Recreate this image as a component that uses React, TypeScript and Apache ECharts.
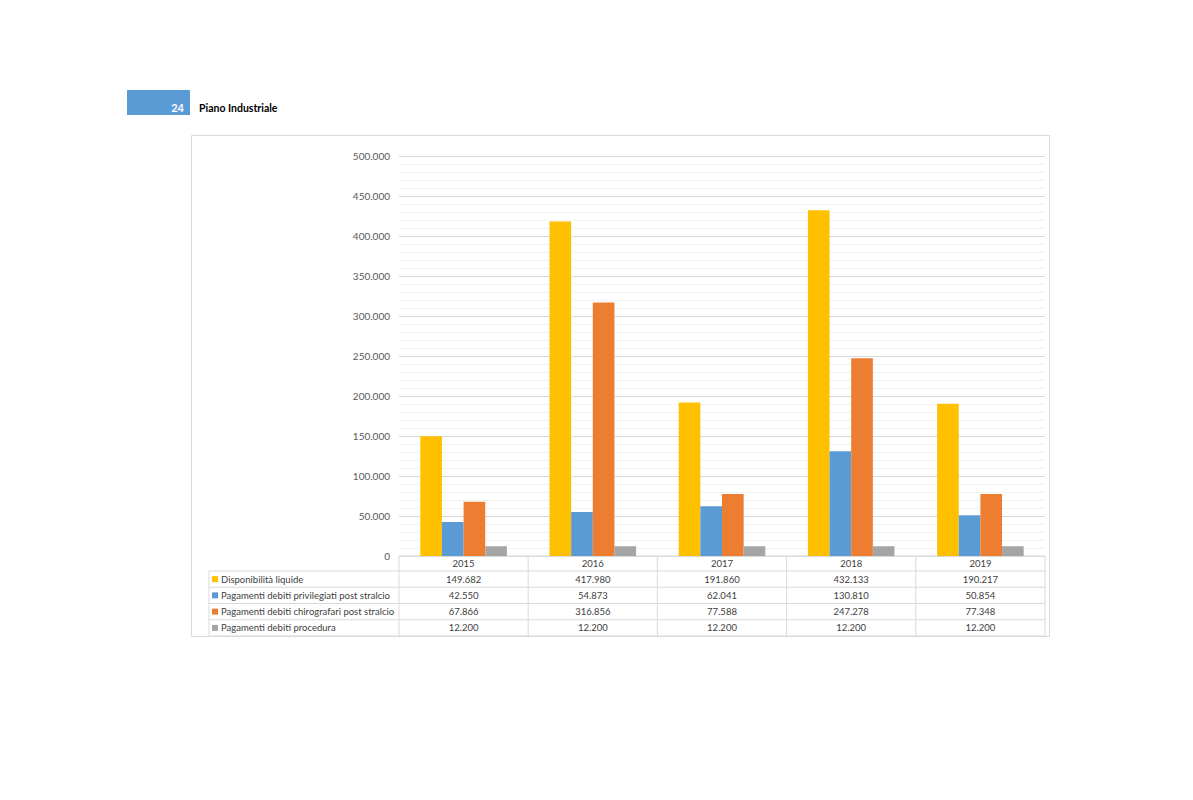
import React, { useEffect, useRef } from "react";
import * as echarts from "echarts";

const categories = ["2015", "2016", "2017", "2018", "2019"];
const seriesNames = [
  "Disponibilità liquide",
  "Pagamenti debiti privilegiati post stralcio",
  "Pagamenti debiti chirografari post stralcio",
  "Pagamenti debiti procedura",
];
const disponibilita = [149682, 417980, 191860, 432133, 190217];
const privilegiati = [42550, 54873, 62041, 130810, 50854];
const chirografari = [67866, 316856, 77588, 247278, 77348];
const procedura = [12200, 12200, 12200, 12200, 12200];
const colors = ["#ffc000", "#5b9bd5", "#ed7d31", "#a5a5a5"];
const yMax = 500000;
const yInterval = 50000;

const fmt = (n: number) => String(Math.round(n)).replace(/\B(?=(\d{3})+(?!\d))/g, ".");

const FONT = "Lato, 'Open Sans', sans-serif";
const W = 1193;
const H = 800;
const PL = 399;
const PR = 1045;
const PT = 156;
const PB = 556;

export default function App() {
  const ref = useRef<HTMLDivElement>(null);
  useEffect(() => {
    if (!ref.current) return;
    const chart = echarts.init(ref.current, null, { renderer: "svg" });
    const data = [disponibilita, privilegiati, chirografari, procedura];
    const colW = (PR - PL) / categories.length;
    const rowTop = 571;
    const rowH = 16.25;
    const lineColor = "#d9d9d9";
    const g: any[] = [];
    // header
    g.push({ type: "rect", shape: { x: 127, y: 90, width: 63, height: 25 }, style: { fill: "#5b9bd5" } });
    g.push({ type: "text", x: 184, y: 107, style: { text: "24", fill: "#ffffff", font: `bold 11px ${FONT}`, textAlign: "right", textVerticalAlign: "middle" } });
    g.push({ type: "text", x: 199, y: 107.5, style: { text: "Piano Industriale", fill: "#000000", font: `bold 10.5px ${FONT}`, textAlign: "left", textVerticalAlign: "middle" } });
    // chart border
    g.push({ type: "rect", shape: { x: 191.5, y: 135.5, width: 858, height: 501 }, style: { fill: "none", stroke: "#d9d9d9", lineWidth: 1 } });
    // table lines
    const bottom = rowTop + rowH * 4;
    g.push({ type: "line", shape: { x1: PL, y1: PB, x2: PR, y2: PB }, style: { stroke: lineColor, lineWidth: 1 } });
    for (let r = 0; r <= 4; r++) {
      const y = rowTop + rowH * r;
      g.push({ type: "line", shape: { x1: 209, y1: y, x2: PR, y2: y }, style: { stroke: lineColor, lineWidth: 1 } });
    }
    for (let c = 0; c <= categories.length; c++) {
      const x = PL + colW * c;
      g.push({ type: "line", shape: { x1: x, y1: PB, x2: x, y2: bottom }, style: { stroke: lineColor, lineWidth: 1 } });
    }
    g.push({ type: "line", shape: { x1: 209, y1: rowTop, x2: 209, y2: bottom }, style: { stroke: lineColor, lineWidth: 1 } });
    // year headers
    categories.forEach((c, i) => {
      g.push({ type: "text", x: PL + colW * (i + 0.5), y: (PB + rowTop) / 2, style: { text: c, fill: "#404040", font: `9.5px ${FONT}`, textAlign: "center", textVerticalAlign: "middle" } });
    });
    // rows
    seriesNames.forEach((name, r) => {
      const yc = rowTop + rowH * (r + 0.5);
      g.push({ type: "rect", shape: { x: 212, y: yc - 3, width: 6, height: 6 }, style: { fill: colors[r] } });
      g.push({ type: "text", x: 221, y: yc, style: { text: name, fill: "#404040", font: `9.5px ${FONT}`, textAlign: "left", textVerticalAlign: "middle" } });
      data[r].forEach((v, i) => {
        g.push({ type: "text", x: PL + colW * (i + 0.5), y: yc, style: { text: fmt(v), fill: "#404040", font: `9.5px ${FONT}`, textAlign: "center", textVerticalAlign: "middle" } });
      });
    });

    chart.setOption({
      animation: false,
      backgroundColor: "#ffffff",
      grid: { left: PL, right: W - PR, top: PT, bottom: H - PB, containLabel: false },
      xAxis: {
        type: "category",
        data: categories,
        axisLine: { show: false },
        axisTick: { show: false },
        axisLabel: { show: false },
      },
      yAxis: {
        type: "value",
        min: 0,
        max: yMax,
        interval: yInterval,
        axisLine: { show: false },
        axisTick: { show: false },
        axisLabel: { formatter: (v: number) => fmt(v), color: "#595959", fontSize: 10, fontFamily: FONT, margin: 9 },
        splitLine: { lineStyle: { color: "#d9d9d9", width: 1 } },
        minorTick: { show: false, splitNumber: 5 },
        minorSplitLine: { show: true, lineStyle: { color: "#f2f2f2", width: 1 } },
      },
      series: data.map((d, i) => ({
        name: seriesNames[i],
        type: "bar",
        data: d,
        barGap: "0%",
        barCategoryGap: "33%",
        itemStyle: { color: colors[i] },
      })),
      graphic: g,
    });
    return () => chart.dispose();
  }, []);
  return <div ref={ref} style={{ position: "absolute", left: 0, top: 0, width: W, height: H }} />;
}
